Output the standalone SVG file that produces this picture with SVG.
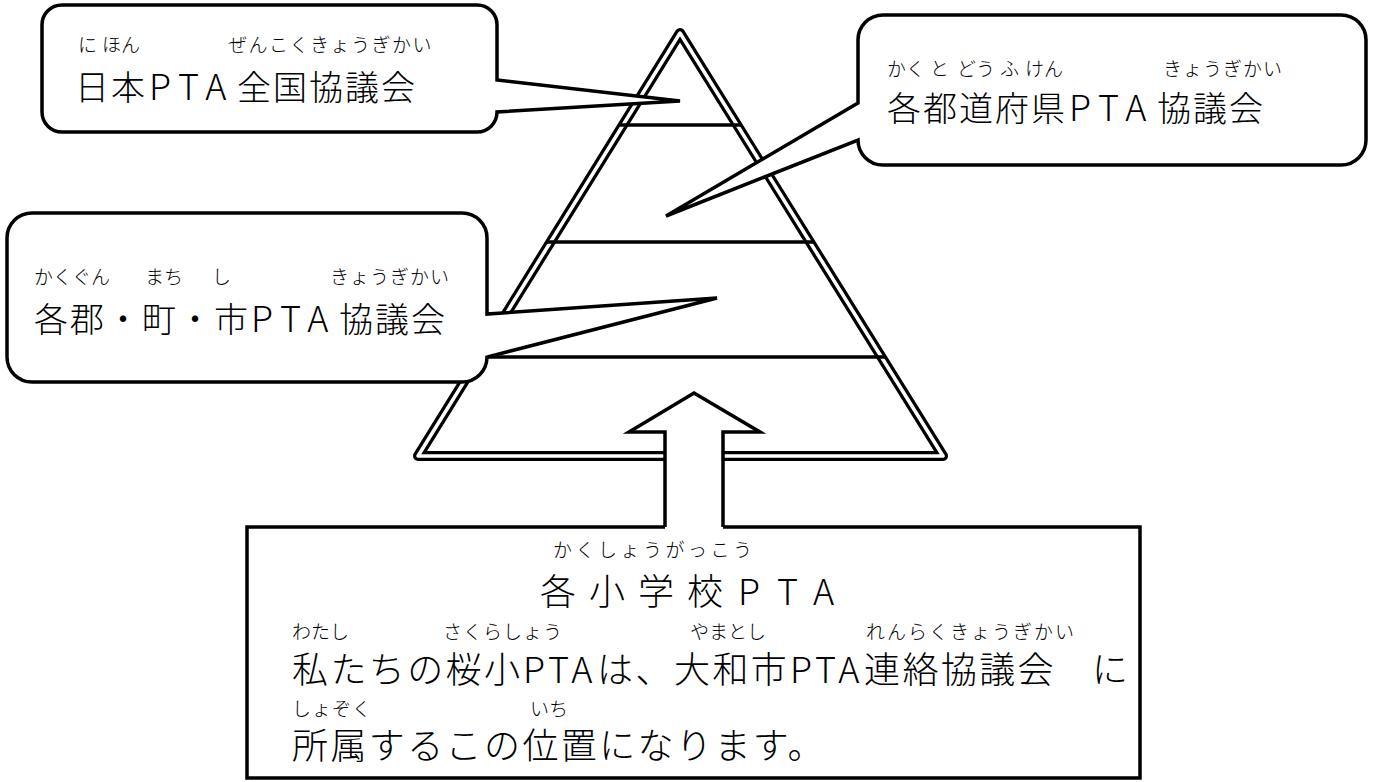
<svg xmlns="http://www.w3.org/2000/svg" width="1374" height="782" viewBox="0 0 1374 782">
<style>
.ln{stroke:#000;stroke-width:3.5;fill:none}
.bub{fill:#fff;stroke:#000;stroke-width:3.5;stroke-linejoin:miter}
.t{font-family:'Noto Sans CJK JP','Noto Sans',sans-serif;fill:#000;font-weight:300}
.m{font-size:34px;letter-spacing:2px}
.r{font-size:19px}
.b{font-size:36px;letter-spacing:2.4px}
.p{font-size:36px;letter-spacing:8px}
</style>
<rect width="1374" height="782" fill="#fff"/>
<g id="pyramid">
<path d="M680,33 L943,456 L418,456 Z" fill="#fff" stroke="#000" stroke-width="10" stroke-linejoin="round"/>
<path d="M680,33 L943,456 L418,456 Z" fill="none" stroke="#fff" stroke-width="3.5" stroke-linejoin="round"/>
<line class="ln" x1="619" y1="125" x2="741" y2="125"/>
<line class="ln" x1="546" y1="242" x2="814" y2="242"/>
<line class="ln" x1="475" y1="357" x2="886" y2="357"/>
</g>
<g id="callout-national">
<path class="bub" d="M62,5 H477 A20,20 0 0 1 497,25 V80 L680,101 L497,112 A20,20 0 0 1 477,132 H62 A20,20 0 0 1 42,112 V25 A20,20 0 0 1 62,5 Z"/>
<text class="t r" y="52"><tspan x="78">に</tspan><tspan x="102">ほん</tspan><tspan x="228" letter-spacing="1.5">ぜんこくきょうぎかい</tspan></text>
<text class="t m" y="100"><tspan x="75">日本</tspan><tspan class="p" x="149">PTA</tspan><tspan x="237">全国協議会</tspan></text>
</g>
<g id="callout-prefecture">
<path class="bub" d="M883,15 H1341 A25,25 0 0 1 1366,40 V140 A25,25 0 0 1 1341,165 H883 A25,25 0 0 1 858,140 L666,216 L858,103 V40 A25,25 0 0 1 883,15 Z"/>
<text class="t r" y="76"><tspan x="887">かく</tspan><tspan x="930">と</tspan><tspan x="957">どう</tspan><tspan x="1000">ふ</tspan><tspan x="1025">けん</tspan><tspan x="1163" letter-spacing="1">きょうぎかい</tspan></text>
<text class="t m" y="121"><tspan x="887">各都道府県</tspan><tspan class="p" x="1069">PTA</tspan><tspan x="1157">協議会</tspan></text>
</g>
<g id="callout-city">
<path class="bub" d="M32,213 H462 A25,25 0 0 1 487,238 V314 L717,298 L487,357 A25,25 0 0 1 462,382 H32 A25,25 0 0 1 7,357 V238 A25,25 0 0 1 32,213 Z"/>
<text class="t r" y="284"><tspan x="34">かくぐん</tspan><tspan x="145">まち</tspan><tspan x="212">し</tspan><tspan x="330" letter-spacing="1">きょうぎかい</tspan></text>
<text class="t m" y="332"><tspan x="34">各郡・町・市</tspan><tspan class="p" x="251">PTA</tspan><tspan x="339">協議会</tspan></text>
</g>
<g id="connectors">
<path d="M665,527 V432 H629 L694,393 L760,432 H723 V527" fill="#fff" stroke="#000" stroke-width="3.5" stroke-linejoin="miter"/>
</g>
<g id="school-box">
<path d="M665,527 H247 V778 H1140 V527 H723" fill="#fff" stroke="#000" stroke-width="3.5" stroke-linejoin="miter"/>
<text class="t r" x="553" y="557" letter-spacing="3.5">かくしょうがっこう</text>
<text class="t" font-size="36" y="605" x="540 576 589 625 638 674 687 723 738 760 777 800 813">各 小 学 校 P T A</text>
<text class="t r" y="639"><tspan x="292">わたし</tspan><tspan x="443" letter-spacing="1">さくらしょう</tspan><tspan x="690">やまとし</tspan><tspan x="866" letter-spacing="2">れんらくきょうぎかい</tspan></text>
<text class="t b" y="683"><tspan x="292">私たちの桜小</tspan><tspan x="523" letter-spacing="4">PTA</tspan><tspan x="597">は、</tspan><tspan x="674">大和市</tspan><tspan x="790" letter-spacing="4">PTA</tspan><tspan x="864">連絡協議会</tspan><tspan x="1092">に</tspan></text>
<text class="t r" y="716"><tspan x="292" letter-spacing="1">しょぞく</tspan><tspan x="530">いち</tspan></text>
<text class="t b" x="292" y="759">所属するこの位置になります。</text>
</g>
</svg>
